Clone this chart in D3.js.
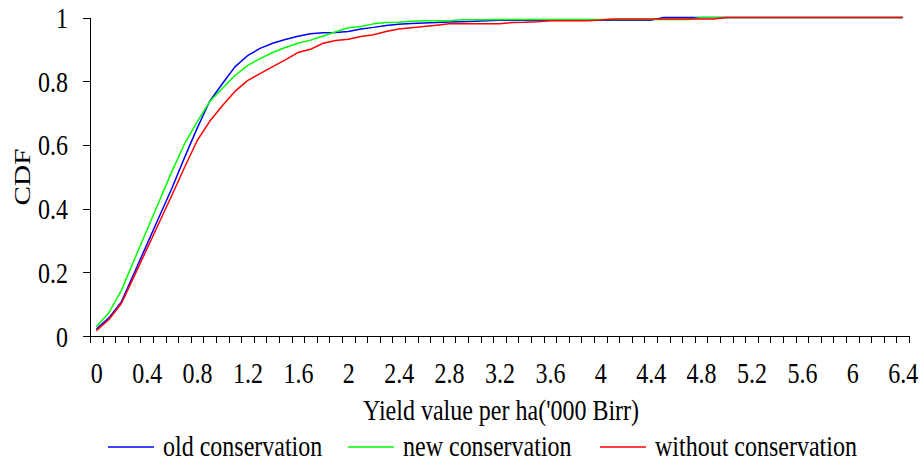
<!DOCTYPE html>
<meta charset="utf-8">
<style>
body { margin: 0; background: #fff; }
svg text { font-family: "Liberation Serif", "Times New Roman", serif; fill: #000; }
.axis path, .axis line { stroke: #000; stroke-width: 1; shape-rendering: crispEdges; }
.series { fill: none; stroke-width: 1.5; stroke-linejoin: round; }
</style>
<body>
<script src="https://cdn.jsdelivr.net/npm/d3@7"></script>
<script>

// x categories ('000 Birr), one per 0.1
var categories = [0, 0.1, 0.2, 0.3, 0.4, 0.5, 0.6, 0.7, 0.8, 0.9,
  1, 1.1, 1.2, 1.3, 1.4, 1.5, 1.6, 1.7, 1.8, 1.9,
  2, 2.1, 2.2, 2.3, 2.4, 2.5, 2.6, 2.7, 2.8, 2.9,
  3, 3.1, 3.2, 3.3, 3.4, 3.5, 3.6, 3.7, 3.8, 3.9,
  4, 4.1, 4.2, 4.3, 4.4, 4.5, 4.6, 4.7, 4.8, 4.9,
  5, 5.1, 5.2, 5.3, 5.4, 5.5, 5.6, 5.7, 5.8, 5.9,
  6, 6.1, 6.2, 6.3, 6.4];

var xTickLabels = ["0", "0.4", "0.8", "1.2", "1.6", "2", "2.4", "2.8", "3.2",
  "3.6", "4", "4.4", "4.8", "5.2", "5.6", "6", "6.4"];
var yTickValues = [0, 0.2, 0.4, 0.6, 0.8, 1];

var oldConservation = [0.022, 0.057, 0.108, 0.197, 0.286, 0.375, 0.464, 0.560, 0.652, 0.737,
  0.792, 0.845, 0.880, 0.903, 0.919, 0.931, 0.941, 0.949, 0.952, 0.953,
  0.956, 0.964, 0.969, 0.975, 0.979, 0.981, 0.983, 0.984, 0.986, 0.987,
  0.988, 0.990, 0.991, 0.991, 0.991, 0.991, 0.991, 0.991, 0.991, 0.991,
  0.991, 0.991, 0.991, 0.991, 0.991, 1, 1, 1, 1, 1,
  1, 1, 1, 1, 1, 1, 1, 1, 1, 1,
  1, 1, 1, 1, 1];

var newConservation = [0.029, 0.073, 0.144, 0.238, 0.331, 0.424, 0.517, 0.603, 0.672, 0.736,
  0.777, 0.818, 0.849, 0.871, 0.890, 0.906, 0.919, 0.929, 0.942, 0.955,
  0.968, 0.972, 0.980, 0.984, 0.985, 0.988, 0.990, 0.990, 0.990, 0.993,
  0.993, 0.993, 0.994, 0.994, 0.994, 0.994, 0.994, 0.994, 0.994, 0.994,
  0.994, 0.994, 0.994, 0.994, 0.994, 0.994, 0.994, 0.994, 1, 1,
  1, 1, 1, 1, 1, 1, 1, 1, 1, 1,
  1, 1, 1, 1, 1];

var withoutConservation = [0.017, 0.052, 0.103, 0.187, 0.272, 0.357, 0.442, 0.529, 0.613, 0.674,
  0.723, 0.768, 0.802, 0.824, 0.846, 0.867, 0.890, 0.900, 0.919, 0.928,
  0.932, 0.940, 0.946, 0.956, 0.964, 0.968, 0.972, 0.976, 0.980, 0.980,
  0.980, 0.980, 0.980, 0.984, 0.985, 0.987, 0.990, 0.990, 0.990, 0.990,
  0.992, 0.995, 0.995, 0.995, 0.995, 0.995, 0.995, 0.995, 0.995, 0.995,
  1, 1, 1, 1, 1, 1, 1, 1, 1, 1,
  1, 1, 1, 1, 1];

var seriesNames = ["old conservation", "new conservation", "without conservation"];
var seriesColors = ["#0000ff", "#00ff00", "#ff0000"];
var seriesValues = [oldConservation, newConservation, withoutConservation];

var width = 924, height = 466;
var fs = 24, sy = 1.22; // text in the picture is stretched vertically

var svg = d3.select("body").append("svg")
    .attr("width", width)
    .attr("height", height);

// category index scale, ticks sit between categories
var x = d3.scaleLinear()
    .domain([-0.5, categories.length - 0.5])
    .range([90, 909]);
var y = d3.scaleLinear()
    .domain([0, 1])
    .range([336, 17.5]);

// tick marks between categories
var boundaries = categories.map(function(d, i) { return i - 0.5; }).concat([categories.length - 0.5]);
svg.append("g")
    .attr("class", "axis")
    .attr("transform", "translate(0," + y(0) + ")")
    .call(d3.axisBottom(x).tickValues(boundaries).tickSize(7).tickSizeOuter(0).tickFormat(""));

// labels every 4th category
var labelIdx = xTickLabels.map(function(l) {
  return categories.indexOf(+l);
});
var xl = svg.append("g")
    .attr("transform", "translate(0," + y(0) + ")")
    .call(d3.axisBottom(x).tickValues(labelIdx).tickSize(0)
      .tickFormat(function(d, i) { return xTickLabels[i]; }));
xl.select(".domain").remove();
xl.selectAll("text")
    .attr("y", 47 / sy)
    .attr("dy", null)
    .attr("transform", "scale(1," + sy + ")")
    .style("font-size", fs + "px");

var yAxis = svg.append("g")
    .attr("class", "axis")
    .attr("transform", "translate(90,0)")
    .call(d3.axisLeft(y).tickValues(yTickValues).tickSize(7).tickSizeOuter(0)
      .tickFormat(function(d) { return d3.format("")(d); }));
yAxis.selectAll("text")
    .attr("x", -22)
    .attr("y", 10 / sy)
    .attr("dy", null)
    .attr("transform", "scale(1," + sy + ")")
    .style("font-size", fs + "px");

var line = d3.line()
    .x(function(d, i) { return x(i); })
    .y(function(d) { return y(d); });

svg.selectAll(".series")
    .data(seriesValues)
  .enter().append("path")
    .attr("class", "series")
    .attr("stroke", function(d, i) { return seriesColors[i]; })
    .attr("d", line);

// axis titles
svg.append("text")
    .attr("transform", "translate(501,420) scale(1," + sy + ")")
    .attr("text-anchor", "middle")
    .style("font-size", fs + "px")
    .text("Yield value per ha('000 Birr)");

svg.append("text")
    .attr("transform", "translate(30,177) scale(1," + sy + ") rotate(-90)")
    .attr("text-anchor", "middle")
    .style("font-size", fs + "px")
    .text("CDF");

// legend
var legendX = [108, 348, 600];
var legend = svg.selectAll(".legend")
    .data(seriesNames)
  .enter().append("g")
    .attr("class", "legend")
    .attr("transform", function(d, i) { return "translate(" + legendX[i] + ",0)"; });
legend.append("line")
    .attr("x1", 0).attr("x2", 46)
    .attr("y1", 447).attr("y2", 447)
    .attr("stroke", function(d, i) { return seriesColors[i]; })
    .attr("stroke-width", 1.5);
legend.append("text")
    .attr("transform", "translate(55,456) scale(1," + sy + ")")
    .style("font-size", fs + "px")
    .text(function(d) { return d; });

</script>
</body>
